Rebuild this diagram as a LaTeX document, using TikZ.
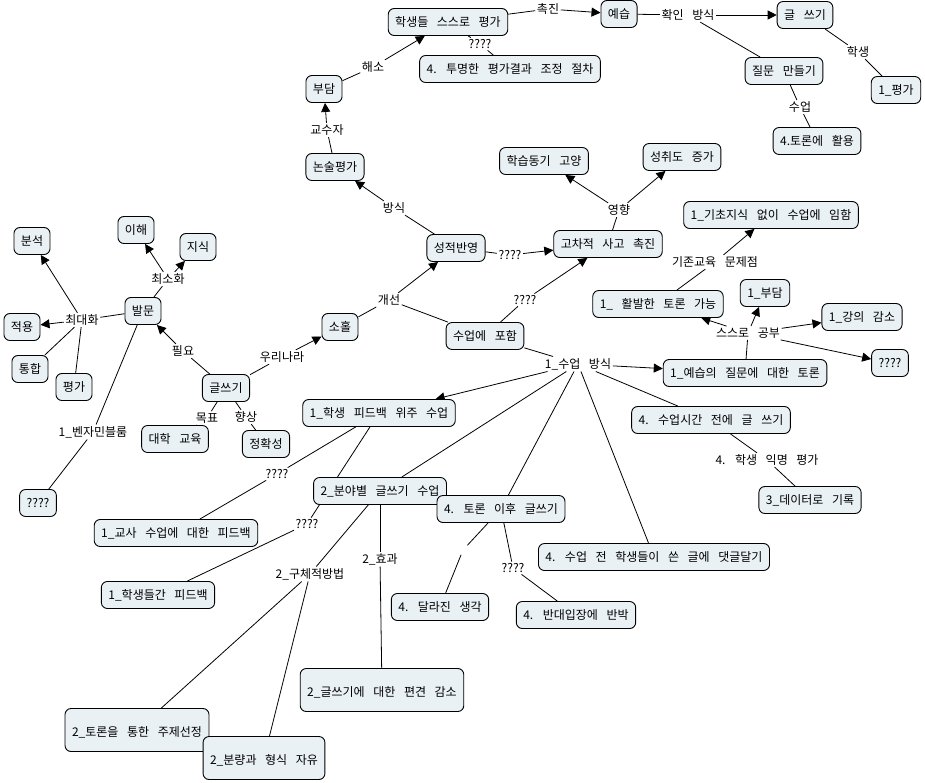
\documentclass[tikz,border=0pt]{standalone}
\usepackage{fontspec}
\setmainfont{Noto Sans CJK KR}[WordSpace=3.2]
\usetikzlibrary{arrows.meta,backgrounds}
\definecolor{boxfill}{RGB}{234,241,245}
\begin{document}
\begin{tikzpicture}[x=1pt,y=-1pt,font=\fontsize{12}{15}\selectfont,
  concept/.style={draw,fill=boxfill,rounded corners=6pt,line width=0.9pt,minimum height=27pt,inner xsep=7pt,inner ysep=3pt},
  tallbox/.style={concept,align=center,minimum height=43pt},
  link/.style={inner sep=1.5pt},
  edge/.style={line width=0.8pt},
  tip/.style={edge,-{Triangle[length=9pt,width=9pt]}}]
\useasboundingbox (0,0) rectangle (925,782);
\node[concept] (selfeval) at (448,22) {학생들 스스로 평가};
\node[concept] (prep) at (619,14) {예습};
\node[concept] (write) at (805,15) {글 쓰기};
\node[concept] (adjust) at (510,69) {4. 투명한 평가결과 조정 절차};
\node[concept] (burden) at (324,89) {부담};
\node[concept] (question) at (784,71) {질문 만들기};
\node[concept] (eval1) at (896,90) {1\_평가};
\node[concept] (debate) at (817,141) {4.토론에 활용};
\node[concept] (essay) at (335,167) {논술평가};
\node[concept] (motiv) at (544,161) {학습동기 고양};
\node[concept] (achieve) at (682,157) {성취도 증가};
\node[concept] (noknow) at (771,215) {1\_기초지식 없이 수업에 임함};
\node[concept] (grade) at (456,248) {성적반영};
\node[concept] (higher) at (608,244) {고차적 사고 촉진};
\node[concept] (analysis) at (32,241) {분석};
\node[concept] (understand) at (136,230) {이해};
\node[concept] (knowledge) at (198,247) {지식};
\node[concept] (ask) at (143,311) {발문};
\node[concept] (apply) at (22,327) {적용};
\node[concept] (integ) at (30,369) {통합};
\node[concept] (evalb) at (74,387) {평가};
\node[concept] (neglect) at (340,327) {소홀};
\node[concept] (include) at (485,336) {수업에 포함};
\node[concept] (active) at (658,304) {1\_ 활발한 토론 가능};
\node[concept] (burden1) at (765,293) {1\_부담};
\node[concept] (lecture) at (862,317) {1\_강의 감소};
\node[concept] (unk1) at (890,363) {????};
\node[concept] (prepdisc) at (745,373) {1\_예습의 질문에 대한 토론};
\node[concept] (writing) at (226,388) {글쓰기};
\node[concept] (univ) at (175,439) {대학 교육};
\node[concept] (accuracy) at (266,444) {정확성};
\node[concept] (feedback) at (379,413) {1\_학생 피드백 위주 수업};
\node[concept] (prewrite) at (711,420) {4. 수업시간 전에 글 쓰기};
\node[concept] (record) at (810,500) {3\_데이터로 기록};
\node[concept] (unk2) at (38,503) {????};
\node[concept] (field) at (380,491) {2\_분야별 글쓰기 수업};
\node[concept] (afterdisc) at (501,509) {4. 토론 이후 글쓰기};
\node[concept] (teacherfb) at (176,533) {1\_교사 수업에 대한 피드백};
\node[concept] (comment) at (654,557) {4. 수업 전 학생들이 쓴 글에 댓글달기};
\node[concept] (peerfb) at (158,595) {1\_학생들간 피드백};
\node[concept] (changed) at (440,607) {4. 달라진 생각};
\node[concept] (rebut) at (576,615) {4. 반대입장에 반박};
\node[tallbox] (prejudice) at (382,690) {\mbox{}\\2\_글쓰기에 대한 편견 감소};
\node[tallbox] (topic) at (137,730) {\mbox{}\\2\_토론을 통한 주제선정};
\node[tallbox] (volume) at (264,758) {\mbox{}\\2\_분량과 형식 자유};

\node[link] (lpromote) at (548,9) {촉진};
\node[link] (lq1) at (480,44) {????};
\node[link] (lresolve) at (373,67) {해소};
\node[link] (lcheck) at (688,15) {확인 방식};
\node[link] (lstudent) at (858,52) {학생};
\node[link] (lclass) at (800,107) {수업};
\node[link] (lprof) at (327,130) {교수자};
\node[link] (lmethod) at (394,208) {방식};
\node[link] (leffect) at (619,210) {영향};
\node[link] (lq2) at (510,255) {????};
\node[link] (lproblem) at (715,262) {기존교육 문제점};
\node[link] (limprove) at (389,300) {개선};
\node[link] (lq3) at (525,300) {????};
\node[link] (lself) at (748,333) {스스로 공부};
\node[link] (lway) at (578,364) {1\_수업 방식};
\node[link] (lmax) at (82,320) {최대화};
\node[link] (lmin) at (168,279) {최소화};
\node[link] (lneed) at (183,351) {필요};
\node[link] (lkorea) at (282,357) {우리나라};
\node[link] (lgoal) at (207,418) {목표};
\node[link] (lraise) at (246,417) {향상};
\node[link] (lbloom) at (93,432) {1\_벤자민블룸};
\node[link] (lq4) at (277,474) {????};
\node[link] (lq5) at (307,524) {????};
\node[link] (lconcrete) at (310,574) {2\_구체적방법};
\node[link] (lresult) at (380,559) {2\_효과};
\node[link,minimum size=9pt] (lblank) at (463,550) {};
\node[link] (lq6) at (513,568) {????};
\node[link] (lanon) at (767,460) {4. 학생 익명 평가};

\begin{scope}[on background layer]
\foreach \u/\v in {selfeval/lpromote,adjust/lq1,lq1/selfeval,burden/lresolve,prep/lcheck,lcheck/question,
  write/lstudent,lstudent/eval1,question/lclass,lclass/debate,essay/lprof,grade/lmethod,higher/leffect,
  grade/lq2,active/lproblem,neglect/limprove,include/limprove,include/lq3,prepdisc/lself,include/lway,
  lway/field,lway/afterdisc,lway/comment,lway/prewrite,ask/lmax,lmax/integ,lmax/evalb,ask/lmin,
  writing/lneed,writing/lkorea,writing/lgoal,lgoal/univ,writing/lraise,lraise/accuracy,ask/lbloom,
  lbloom/unk2,feedback/lq4,lq4/teacherfb,feedback/lq5,lq5/peerfb,field/lconcrete,lconcrete/topic,
  lconcrete/volume,field/lresult,lresult/prejudice,afterdisc/lblank,lblank/changed,afterdisc/lq6,
  lq6/rebut,prewrite/lanon,lanon/record}
  \draw[edge] (\u)--(\v);
\foreach \u/\v in {lpromote/prep,lresolve/selfeval,lcheck/write,lprof/burden,lmethod/essay,
  leffect/motiv,leffect/achieve,lq2/higher,lproblem/noknow,limprove/grade,lq3/higher,lself/active,
  lself/burden1,lself/lecture,lself/unk1,lway/prepdisc,lway/feedback,lmax/analysis,lmax/apply,
  lmin/understand,lmin/knowledge,lneed/ask,lkorea/neglect}
  \draw[tip] (\u)--(\v);
\end{scope}
\end{tikzpicture}
\end{document}
